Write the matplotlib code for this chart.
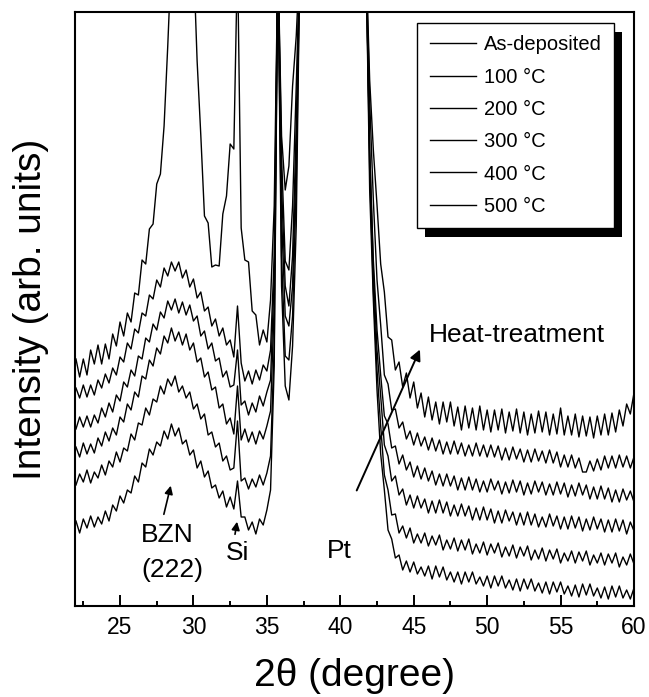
import numpy as np
import matplotlib
matplotlib.use('Agg')
import matplotlib.pyplot as plt
from matplotlib.ticker import MultipleLocator
from matplotlib.patches import Rectangle

plt.rcParams['font.family'] = ['Liberation Sans', 'DejaVu Sans']

# 2theta grid (degree), step 0.25
two_theta = np.arange(22.0, 60.001, 0.25)

# intensities (arb. units); values > 594 are off-scale
as_deposited = [
    85, 73, 87, 78, 90, 79, 89, 82,
    95, 85, 101, 95, 110, 103, 116, 113,
    130, 124, 143, 139, 157, 151, 164, 160,
    175, 167, 182, 170, 178, 162, 166, 151,
    156, 138, 145, 129, 135, 118, 121, 108,
    115, 99, 109, 97, 125, 89, 89, 76,
    84, 72, 87, 81, 96, 116, 240, 650,
    320, 220, 206, 260, 380, 650, 650, 650,
    650, 650, 650, 650, 650, 650, 650, 650,
    650, 650, 650, 650, 650, 650, 650, 650,
    416, 306, 216, 152, 116, 76, 67, 48,
    51, 36, 45, 34, 44, 32, 39, 30,
    40, 27, 40, 29, 39, 26, 34, 24,
    34, 22, 34, 24, 34, 22, 29, 20,
    30, 18, 30, 20, 30, 18, 26, 16,
    27, 15, 27, 17, 27, 15, 23, 13,
    24, 12, 24, 14, 24, 12, 20, 10,
    21, 9, 22, 11, 22, 10, 18, 8,
    19, 7, 20, 9, 20, 8, 16, 7,
    18]

t100 = [
    121, 132, 124, 136, 123, 134, 128, 141,
    131, 145, 139, 154, 144, 158, 155, 172,
    166, 183, 181, 198, 191, 207, 204, 220,
    212, 227, 220, 230, 214, 220, 208, 214,
    197, 202, 187, 192, 171, 174, 159, 163,
    145, 150, 136, 138, 185, 125, 128, 117,
    127, 119, 131, 121, 133, 150, 260, 650,
    350, 250, 246, 290, 420, 650, 650, 650,
    650, 650, 650, 650, 650, 650, 650, 650,
    650, 650, 650, 650, 650, 650, 650, 650,
    436, 316, 236, 180, 131, 116, 91, 92,
    73, 80, 68, 78, 63, 72, 63, 73,
    60, 70, 61, 71, 56, 66, 57, 68,
    55, 66, 56, 67, 52, 62, 53, 64,
    51, 62, 53, 63, 49, 59, 50, 61,
    48, 59, 50, 60, 46, 56, 47, 58,
    45, 56, 47, 57, 43, 53, 45, 55,
    43, 54, 45, 55, 41, 51, 43, 53,
    41, 52, 43, 53, 39, 49, 41, 52,
    42]

t200 = [
    159, 149, 163, 152, 162, 153, 168, 160,
    174, 165, 178, 171, 189, 184, 202, 196,
    214, 209, 230, 227, 246, 240, 258, 252,
    270, 263, 278, 265, 274, 261, 272, 256,
    263, 244, 248, 229, 234, 216, 219, 198,
    202, 182, 188, 172, 220, 166, 177, 164,
    174, 162, 175, 167, 180, 195, 300, 650,
    390, 290, 280, 320, 450, 650, 650, 650,
    650, 650, 650, 650, 650, 650, 650, 650,
    650, 650, 650, 650, 650, 650, 650, 650,
    456, 336, 256, 210, 161, 150, 125, 130,
    111, 117, 101, 111, 98, 110, 98, 107,
    93, 105, 93, 106, 93, 104, 90, 101,
    90, 102, 90, 100, 86, 98, 86, 99,
    86, 97, 83, 95, 83, 96, 85, 94,
    81, 93, 81, 94, 81, 92, 79, 89,
    79, 92, 80, 90, 77, 89, 77, 90,
    78, 89, 75, 87, 76, 89, 77, 87,
    74, 86, 74, 87, 75, 86, 72, 84,
    75]

t300 = [
    177, 189, 179, 190, 179, 191, 183, 198,
    189, 203, 194, 211, 205, 224, 219, 236,
    230, 250, 247, 268, 264, 282, 276, 294,
    288, 305, 296, 307, 293, 304, 291, 301,
    285, 290, 270, 275, 257, 263, 245, 248,
    229, 235, 219, 221, 256, 201, 205, 191,
    203, 194, 210, 200, 214, 226, 330, 650,
    420, 320, 300, 350, 480, 650, 650, 650,
    650, 650, 650, 650, 650, 650, 650, 650,
    650, 650, 650, 650, 650, 650, 650, 650,
    456, 346, 276, 231, 190, 182, 158, 160,
    142, 151, 136, 144, 129, 140, 127, 138,
    125, 135, 121, 132, 120, 132, 120, 130,
    116, 128, 116, 129, 116, 127, 114, 125,
    114, 127, 116, 125, 112, 124, 113, 126,
    114, 125, 111, 123, 112, 125, 114, 124,
    111, 122, 111, 124, 112, 123, 109, 121,
    110, 123, 111, 121, 107, 119, 107, 120,
    107, 118, 104, 116, 104, 117, 106, 115,
    104]

t400 = [
    218, 208, 221, 209, 221, 211, 226, 218,
    232, 223, 238, 231, 249, 244, 263, 257,
    277, 273, 293, 290, 311, 307, 326, 319,
    338, 330, 344, 335, 344, 328, 336, 319,
    327, 308, 314, 295, 299, 280, 287, 270,
    278, 261, 266, 249, 300, 243, 225, 235,
    222, 236, 226, 241, 235, 256, 350, 650,
    450, 345, 336, 400, 520, 650, 650, 650,
    650, 650, 650, 650, 650, 650, 650, 650,
    650, 650, 650, 650, 650, 650, 650, 650,
    506, 406, 326, 281, 231, 222, 196, 197,
    178, 184, 167, 175, 161, 173, 160, 169,
    156, 168, 155, 166, 152, 164, 152, 165,
    152, 163, 150, 161, 150, 163, 150, 161,
    149, 161, 149, 160, 146, 158, 146, 159,
    147, 157, 144, 156, 144, 157, 145, 155,
    143, 156, 143, 154, 139, 151, 139, 151,
    138, 148, 134, 134, 145, 135, 147, 136,
    150, 138, 150, 138, 151, 139, 150, 138,
    149]

t500 = [
    247, 229, 247, 231, 256, 242, 261, 242,
    262, 247, 272, 260, 284, 270, 293, 284,
    313, 311, 346, 342, 377, 382, 422, 432,
    480, 560, 650, 650, 650, 650, 650, 650,
    650, 545, 471, 390, 383, 339, 341, 340,
    392, 410, 462, 457, 650, 378, 346, 344,
    295, 291, 261, 276, 264, 306, 400, 650,
    470, 416, 440, 520, 570, 650, 650, 650,
    650, 650, 650, 650, 650, 650, 650, 650,
    650, 650, 650, 650, 650, 650, 650, 650,
    526, 456, 401, 342, 314, 269, 266, 236,
    244, 219, 233, 208, 224, 198, 213, 189,
    209, 186, 204, 182, 204, 184, 204, 180,
    199, 176, 200, 178, 198, 176, 200, 176,
    196, 174, 196, 176, 197, 173, 194, 175,
    197, 173, 194, 171, 192, 173, 195, 174,
    194, 171, 192, 172, 198, 171, 190, 171,
    192, 169, 190, 170, 189, 168, 190, 171,
    192, 171, 193, 174, 196, 180, 202, 192,
    213]

labels = ['As-deposited', '100 °C', '200 °C', '300 °C', '400 °C', '500 °C']
series = [as_deposited, t100, t200, t300, t400, t500]

fig = plt.figure(figsize=(6.49, 6.97), dpi=100)
ax = fig.add_axes([74.5 / 649, 91 / 697, (634 - 74.5) / 649, 594 / 697])

for lab, ys in zip(labels, series):
    ax.plot(two_theta, ys, color='black', lw=1.0, label=lab)

ax.set_xlim(21.9, 60.0)
ax.set_ylim(0, 594)

ax.xaxis.set_major_locator(MultipleLocator(5))
ax.xaxis.set_minor_locator(MultipleLocator(2.5))
ax.tick_params(axis='x', which='major', direction='in', length=8, width=1.4,
               labelsize=16.5, pad=7, top=False)
ax.tick_params(axis='x', which='minor', direction='in', length=3.5, width=1.4, top=False)
ax.set_yticks([])
for sp in ax.spines.values():
    sp.set_linewidth(1.5)

ax.set_xlabel('2θ (degree)', fontsize=28, labelpad=14)
ax.set_ylabel('Intensity (arb. units)', fontsize=28, labelpad=18)

# annotations
ax.text(28.2, 71, 'BZN', fontsize=19, ha='center', va='center')
ax.text(28.55, 36, '(222)', fontsize=19, ha='center', va='center')
ax.text(33.0, 53, 'Si', fontsize=19, ha='center', va='center')
ax.text(39.9, 55, 'Pt', fontsize=19, ha='center', va='center')
ax.text(52.0, 271, 'Heat-treatment', fontsize=19, ha='center', va='center')

arrow = dict(arrowstyle='-|>', color='black', lw=1.2, mutation_scale=12)
ax.annotate('', xy=(28.5, 123), xytext=(27.94, 89), arrowprops=arrow)
ax.annotate('', xy=(33.0, 87), xytext=(32.8, 69), arrowprops=arrow)
ax.annotate('', xy=(45.5, 259), xytext=(41.04, 113),
            arrowprops=dict(arrowstyle='-|>', color='black', lw=1.4, mutation_scale=16))

leg = ax.legend(loc='upper right', bbox_to_anchor=(0.964, 0.981), borderaxespad=0,
                fontsize=14.5, handlelength=2.3, handletextpad=0.4, labelspacing=0.66,
                borderpad=0.6, fancybox=False, framealpha=1, edgecolor='black')
leg.get_frame().set_linewidth(1.0)

# black drop shadow behind the legend box
fig.canvas.draw()
bb = leg.get_window_extent()
shadow = Rectangle((bb.x0 + 8, bb.y0 - 9), bb.width, bb.height, transform=None,
                   facecolor='black', edgecolor='none', zorder=4.5, clip_on=False)
ax.add_patch(shadow)

fig.savefig('out.png', dpi=100)
